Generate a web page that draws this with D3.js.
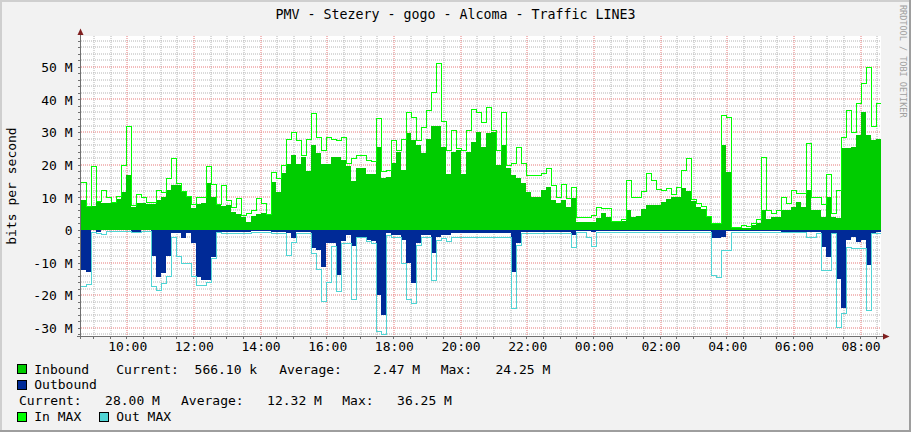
<!DOCTYPE html>
<html><head><meta charset="utf-8">
<script src="https://cdn.jsdelivr.net/npm/d3@7"></script>
<style>
html,body{margin:0;padding:0;background:#F2F2F2;}
svg{display:block;}
text{font-family:"DejaVu Sans Mono",monospace;white-space:pre;}
</style></head>
<body><svg id="c" width="911" height="432"></svg>
<script>
const title = "PMV - Stezery - gogo - Alcoma - Traffic LINE3";
const yTitle = "bits per second";
const watermark = "RRDTOOL / TOBI OETIKER";
const startTime = new Date(2024, 0, 1, 8, 37, 33);
const stepMinutes = 9;

const inbound = [
 9.2,7.1,7.2,8.5,8.3,8.4,8.5,9.5,11.5,16.8,
 7.1,8.3,8.2,7.9,8.0,9.2,10.0,12.2,13.8,13.8,
 11.5,10.2,6.6,8.0,8.2,14.3,10.2,7.7,7.5,7.8,
 5.6,4.8,4.0,2.5,4.2,5.0,5.1,4.5,14.6,11.6,
 17.5,20.2,23.0,20.2,22.4,18.0,26.0,23.5,20.2,20.2,
 22.5,22.5,21.5,19.6,15.0,18.9,18.9,17.3,17.0,25.5,
 16.0,16.3,20.4,24.0,18.4,29.6,27.5,26.0,23.5,28.0,
 32.0,32.0,25.5,17.0,24.0,24.5,17.0,24.0,27.0,30.0,
 25.5,29.6,30.0,20.0,26.0,18.9,16.8,15.8,14.3,11.7,
 10.2,10.2,12.2,13.3,9.2,8.2,9.2,7.1,9.7,2.6,
 2.6,2.6,2.6,3.6,5.1,4.0,2.6,2.6,2.8,6.0,
 4.0,4.2,6.5,7.7,7.7,7.7,8.5,9.5,10.0,10.2,
 13.0,12.0,9.0,7.1,6.5,4.0,2.0,2.0,26.0,17.9,
 0.5,0.5,0.5,0.5,1.5,2.0,6.1,3.5,4.0,4.0,
 6.1,6.1,7.1,8.7,7.1,12.2,6.1,6.1,4.0,10.2,
 4.0,3.6,25.0,25.0,25.5,29.0,36.2,29.0,27.5,28.0
];
const outbound = [
 -12.2,-13.0,-0.1,-0.5,-0.1,-0.1,-0.1,-0.1,-0.1,-0.1,
 -0.5,-0.5,-0.1,-0.1,-8.0,-14.3,-13.3,-8.0,-1.0,-1.0,
 -2.5,-0.8,-4.0,-14.3,-15.3,-15.3,-8.2,-0.5,-0.5,-0.5,
 -0.5,-0.5,-0.5,-0.5,-0.3,-0.3,-0.3,-0.3,-0.5,-0.5,
 -0.5,-1.0,-2.5,-0.5,-0.5,-0.5,-5.6,-6.0,-11.2,-4.0,
 -4.0,-13.8,-3.5,-1.5,-5.0,-2.0,-2.0,-3.0,-3.5,-19.9,
 -26.0,-1.0,-1.5,-1.5,-3.0,-10.2,-16.3,-4.0,-1.5,-1.5,
 -7.1,-2.0,-1.5,-1.5,-1.0,-1.0,-1.0,-1.0,-1.0,-1.0,
 -1.0,-1.0,-1.0,-1.0,-1.0,-1.0,-12.8,-4.0,-0.5,-0.5,
 -0.5,-0.5,-0.5,-0.5,-0.5,-0.5,-0.5,-0.5,-1.5,-0.2,
 -0.2,-0.2,-0.5,-0.3,-0.3,-0.3,-0.3,-0.3,-0.3,-0.3,
 -0.3,-0.3,-0.3,-0.3,-0.3,-0.3,-0.3,-0.3,-0.3,-0.3,
 -0.3,-0.3,-0.3,-0.3,-0.3,-0.3,-2.5,-2.5,-2.0,-0.3,
 -0.3,-0.3,-0.3,-0.3,-0.3,-0.3,-0.3,-0.3,-0.3,-0.3,
 -0.5,-0.5,-0.5,-0.5,-0.5,-0.5,-0.5,-0.5,-5.1,-8.2,
 -0.8,-15.0,-24.0,-3.0,-2.0,-3.6,-3.0,-10.7,-0.8,-0.6
];
const inMax = [
 14.6,7.3,19.6,9.0,12.2,10.0,8.7,10.5,19.9,31.9,
 7.8,10.9,10.2,8.7,8.7,12.2,11.5,15.8,22.0,14.5,
 11.8,10.5,8.0,10.2,10.2,19.6,14.0,7.9,13.8,9.2,
 7.1,9.7,4.5,5.1,6.1,9.7,8.2,5.0,17.9,15.8,
 20.0,28.0,30.0,27.6,23.0,28.0,35.9,28.4,24.5,28.4,
 27.8,27.6,28.5,20.5,22.0,23.0,23.0,21.4,21.0,34.2,
 18.0,18.4,27.6,24.5,28.0,36.0,34.7,27.6,31.6,36.7,
 42.3,51.0,33.5,24.5,30.6,25.0,24.5,30.6,37.2,36.0,
 33.0,37.8,30.6,24.5,36.0,19.9,20.4,25.5,20.4,16.8,
 16.8,16.8,17.5,18.9,13.8,10.2,14.0,9.7,13.3,4.0,
 4.0,4.0,4.5,7.1,6.6,6.6,2.8,2.8,3.5,15.3,
 10.2,10.2,12.0,17.6,15.3,12.5,12.2,12.8,11.0,13.3,
 18.4,22.2,9.5,8.2,7.5,4.2,2.1,2.1,35.2,34.7,
 1.0,1.0,1.5,1.2,2.0,3.5,22.4,6.0,5.1,6.0,
 10.2,8.2,12.2,11.2,11.2,26.7,10.2,10.2,8.0,17.3,
 5.1,12.2,28.6,36.7,30.0,38.8,44.9,49.8,32.0,38.8
];
const outMax = [
 -17.3,-16.5,-0.5,-0.8,-1.2,-0.2,-0.2,-0.2,-0.2,-0.2,
 -0.6,-0.6,-0.2,-0.2,-17.3,-18.4,-16.3,-14.0,-2.0,-8.0,
 -10.2,-10.2,-14.0,-16.8,-16.8,-16.0,-8.7,-0.7,-0.8,-0.8,
 -0.8,-0.8,-0.8,-0.8,-0.5,-0.5,-0.5,-0.5,-0.8,-0.8,
 -0.8,-7.7,-3.6,-0.8,-0.8,-0.8,-7.2,-12.0,-21.6,-16.0,
 -5.0,-18.6,-4.1,-4.0,-21.0,-2.2,-2.2,-3.3,-4.0,-31.0,
 -32.0,-1.5,-2.0,-2.0,-10.2,-21.0,-22.4,-4.5,-2.0,-2.0,
 -15.3,-3.0,-2.5,-3.5,-2.0,-2.0,-2.0,-2.0,-2.0,-2.0,
 -2.0,-2.0,-2.0,-2.0,-2.0,-2.0,-24.0,-4.5,-0.8,-0.8,
 -0.8,-0.8,-0.8,-0.8,-0.8,-0.8,-0.8,-0.8,-5.1,-0.5,
 -0.5,-2.0,-5.0,-0.5,-0.5,-0.5,-0.5,-0.5,-0.5,-0.5,
 -0.5,-0.5,-0.5,-0.5,-0.5,-0.5,-0.5,-0.5,-0.5,-0.5,
 -0.5,-0.5,-0.5,-0.5,-0.5,-0.5,-13.8,-14.3,-6.1,-6.0,
 -0.5,-0.5,-0.5,-0.5,-0.5,-0.5,-0.5,-0.5,-0.5,-0.5,
 -0.5,-0.5,-0.5,-0.5,-0.5,-2.0,-2.0,-0.8,-12.2,-12.2,
 -1.0,-29.6,-25.5,-5.1,-5.6,-5.6,-5.6,-24.5,-1.0,-1.0
];

const yMajorTicks = [-30,-20,-10,0,10,20,30,40,50];
const yMinorTicks = [-32,-28,-26,-24,-22,-18,-16,-14,-12,-8,-6,-4,-2,2,4,6,8,12,14,16,18,22,24,26,28,32,34,36,38,42,44,46,48,52,54,56,58];

const legendInbound = ["Inbound", "Current:  566.10 k", "Average:    2.47 M", "Max:   24.25 M"];
const legendOutbound = ["Outbound"];
const legendOutStats = ["Current:   28.00 M", "Average:   12.32 M", "Max:   36.25 M"];
const legendMax = ["In MAX", "Out MAX"];

const C = {
  back: "#F2F2F2", canvas: "#FFFFFF", shadeA: "#CFCFCF", shadeB: "#9E9E9E",
  grid: "#B4B4B4", mgrid: "#E67878", axis: "#707070", arrow: "#801F1F",
  inb: "#00CC00", outb: "#002A97", inMax: "#00FF00", outMax: "#50D4D4"
};

const svg = d3.select("#c");
const W = 911, H = 432;
const L = 81, R = 881, T = 36, B = 336;

svg.append("rect").attr("width", W).attr("height", H).attr("fill", C.back);
svg.append("path").attr("d", "M0,0H911V2H2V432H0Z").attr("fill", C.shadeA);
svg.append("path").attr("d", "M911,0V432H0V430H909V0Z").attr("fill", C.shadeB);

const endTime = d3.timeHour.offset(startTime, 24);
const x = d3.scaleTime().domain([startTime, endTime]).range([L, R]);
const y = d3.scaleLinear().domain([-32.47, 59.42]).range([B, T]);

svg.append("rect").attr("x", L).attr("y", T).attr("width", R - L).attr("height", B - T).attr("fill", C.canvas);

const px = v => Math.round(v) + 0.5;
const fx = v => Math.floor(v) + 0.5;
// grid lines sit on pixel boundaries so they spread softly over two pixels
const gx2 = v => Math.floor(v) + 1;
const gy2 = v => Math.round(v);
const gGrid = svg.append("g");
const minorT = x.ticks(d3.timeMinute.every(30));
const majorT = x.ticks(d3.timeHour.every(2));
const isMajor = t => t.getMinutes() === 0 && t.getHours() % 2 === 0;

minorT.filter(t => !isMajor(t)).forEach(t => {
  gGrid.append("line").attr("x1", gx2(x(t))).attr("x2", gx2(x(t))).attr("y1", T).attr("y2", B)
    .attr("stroke", C.grid).attr("stroke-dasharray", "1,1");
});
yMinorTicks.forEach(v => {
  gGrid.append("line").attr("x1", L).attr("x2", R).attr("y1", gy2(y(v))).attr("y2", gy2(y(v)))
    .attr("stroke", C.grid).attr("stroke-dasharray", "1,1");
});
majorT.forEach(t => {
  gGrid.append("line").attr("x1", gx2(x(t))).attr("x2", gx2(x(t))).attr("y1", T).attr("y2", B)
    .attr("stroke", C.mgrid).attr("stroke-dasharray", "1,1");
});
yMajorTicks.forEach(v => {
  gGrid.append("line").attr("x1", L).attr("x2", R).attr("y1", gy2(y(v))).attr("y2", gy2(y(v)))
    .attr("stroke", C.mgrid).attr("stroke-dasharray", "1,1");
});

const times = inbound.map((_, i) => d3.timeMinute.offset(startTime, i * stepMinutes));
function pts(arr) {
  const p = arr.map((v, i) => ({ t: times[i], v }));
  p.push({ t: endTime, v: arr[arr.length - 1] });
  return p;
}
const area = d3.area().x(d => Math.round(x(d.t))).y0(Math.round(y(0))).y1(d => Math.round(y(d.v))).curve(d3.curveStepAfter);
const line = d3.line().x(d => Math.round(x(d.t))).y(d => Math.round(y(d.v)) + 0.5).curve(d3.curveStepAfter);

svg.append("path").attr("d", area(pts(inbound))).attr("fill", C.inb).attr("shape-rendering", "crispEdges");
svg.append("path").attr("d", area(pts(outbound))).attr("fill", C.outb).attr("shape-rendering", "crispEdges");
svg.append("path").attr("d", line(pts(inMax))).attr("fill", "none").attr("stroke", C.inMax).attr("stroke-width", 1).attr("shape-rendering", "crispEdges");
svg.append("path").attr("d", line(pts(outMax))).attr("fill", "none").attr("stroke", C.outMax).attr("stroke-width", 1).attr("shape-rendering", "crispEdges");

// axes lines
svg.append("line").attr("x1", 80.5).attr("x2", 80.5).attr("y1", 34).attr("y2", 339).attr("stroke", C.axis);
svg.append("line").attr("x1", 77).attr("x2", 884).attr("y1", 336.5).attr("y2", 336.5).attr("stroke", C.axis);
svg.append("path").attr("d", "M77.5,35L80.5,28.5L83.5,35Z").attr("fill", C.arrow);
svg.append("path").attr("d", "M883,333.5L889.5,336.5L883,339.5Z").attr("fill", C.arrow);

// minor ticks
const gt = svg.append("g").attr("stroke", C.axis).attr("shape-rendering", "crispEdges");
yMinorTicks.concat(yMajorTicks).forEach(v => {
  gt.append("line").attr("x1", 78).attr("x2", 81).attr("y1", px(y(v))).attr("y2", px(y(v)));
});
minorT.forEach(t => {
  gt.append("line").attr("x1", fx(x(t))).attr("x2", fx(x(t))).attr("y1", 336).attr("y2", 339);
});

// axis labels
const yAxis = d3.axisLeft(y).tickValues(yMajorTicks).tickSize(0).tickPadding(8.5)
  .tickFormat(v => v === 0 ? "0" : v + " M");
const gy = svg.append("g").attr("transform", `translate(${L},0)`).call(yAxis);
gy.select(".domain").remove();
gy.selectAll("text").attr("font-family", "DejaVu Sans Mono").attr("font-size", 13).attr("fill", "#000").attr("dy", "0.36em");

const xAxis = d3.axisBottom(x).tickValues(majorT).tickSize(0).tickPadding(5.5).tickFormat(d3.timeFormat("%H:%M"));
const gx = svg.append("g").attr("transform", `translate(0.4,${B})`).call(xAxis);
gx.select(".domain").remove();
gx.selectAll("text").attr("font-family", "DejaVu Sans Mono").attr("font-size", 13).attr("fill", "#000");

// titles
svg.append("text").attr("x", 455.5).attr("y", 19).attr("text-anchor", "middle").attr("font-size", 13.3).text(title);
svg.append("text").attr("transform", "translate(16,186) rotate(-90)").attr("text-anchor", "middle").attr("font-size", 13).text(yTitle);
svg.append("text").attr("transform", "translate(900,5) rotate(90)").attr("font-size", 8.5).attr("fill", "#A0A0A0").text(watermark);

// legend
const fs = 13;
function box(xx, yy, col) {
  svg.append("rect").attr("x", xx).attr("y", yy).attr("width", 9).attr("height", 9).attr("fill", col).attr("stroke", "#000").attr("stroke-width", 1);
}
function txt(xx, yy, s) {
  svg.append("text").attr("x", xx).attr("y", yy).attr("font-size", fs).attr("xml:space", "preserve").text(s);
}
box(17.5, 364.5, C.inb);
[34.3, 116.3, 279.3, 440.7].forEach((xx, i) => txt(xx, 373.5, legendInbound[i]));
box(17.5, 380.5, C.outb);
txt(34.3, 389.3, legendOutbound[0]);
[19, 181, 342.3].forEach((xx, i) => txt(xx, 405.2, legendOutStats[i]));
box(17.5, 412.5, C.inMax);
txt(34.3, 421.2, legendMax[0]);
box(99.5, 412.5, C.outMax);
txt(116.3, 421.2, legendMax[1]);
</script></body></html>
